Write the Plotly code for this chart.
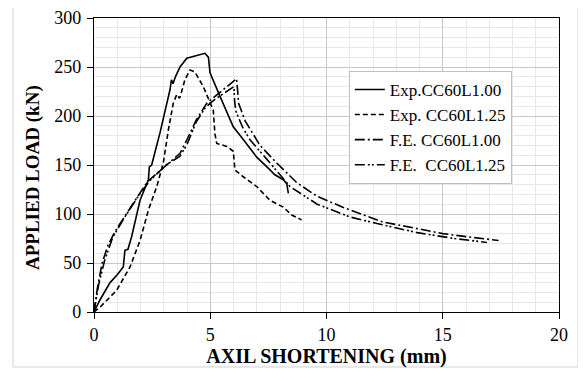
import plotly.graph_objects as go

# Exp. CC60L1.00
exp100_x = [0, 0.25, 0.69, 1.0, 1.26, 1.33, 1.46, 1.62, 1.98, 2.34, 2.38, 2.48, 2.84, 3.13, 3.27, 3.33, 3.4, 3.5, 3.7, 3.99, 4.42, 4.77, 4.92, 4.96, 4.99, 5.42, 5.99, 6.42, 7.0, 7.57, 7.78, 8.14, 8.29, 8.36]
exp100_y = [0, 12, 30, 38, 46, 63, 64, 77, 114, 135, 148, 150, 183, 213, 227, 237, 233, 240, 250, 259, 262, 264, 260, 247, 244, 220, 189, 176, 158, 145, 140, 135, 131, 121]

# Exp. CC60L1.25
exp125_x = [0, 0.26, 0.97, 1.55, 1.98, 2.34, 2.7, 2.98, 3.2, 3.41, 3.56, 3.68, 3.77, 3.91, 4.13, 4.34, 4.7, 5.13, 5.2, 5.28, 5.71, 5.99, 6.06, 6.42, 7.0, 7.57, 8.14, 8.5, 8.93]
exp125_y = [0, 5, 22, 46, 73, 104, 128, 152, 186, 213, 222, 218, 225, 237, 247, 245, 230, 206, 182, 172, 169, 164, 145, 138, 128, 114, 107, 99, 94]

# F.E. CC60L1.00
fe100_x = [0, 0.15, 0.35, 0.6, 0.9, 1.3, 1.8, 2.3, 3.1, 3.7, 4.0, 4.4, 4.85, 5.3, 5.7, 6.13, 6.18, 6.22, 6.5, 7.14, 7.86, 8.72, 9.6, 10.7, 12.4, 13.9, 15.0, 16.3, 17.4]
fe100_y = [0, 25, 50, 68, 82, 97, 115, 133, 150, 162, 176, 196, 213, 222, 230, 238, 225, 213, 195, 170, 152, 132, 118, 107, 92, 85, 80, 76, 73]

# F.E. CC60L1.25
fe125_x = [0, 0.2, 0.45, 0.8, 1.3, 1.9, 2.4, 3.1, 3.7, 4.0, 4.4, 4.8, 5.2, 5.7, 6.02, 6.05, 6.1, 6.4, 6.7, 7.43, 8.43, 9.6, 11.0, 12.4, 13.9, 15.5, 16.9]
fe125_y = [0, 28, 52, 76, 96, 118, 134, 150, 159, 171, 194, 209, 217, 225, 230, 215, 205, 188, 176, 156, 128, 110, 97, 89, 81, 75, 71]

names = ["Exp.CC60L1.00", "Exp. CC60L1.25", "F.E. CC60L1.00", "F.E.  CC60L1.25"]
dashes = ["solid", "5px,3px", "10px,3px,2px,3px", "10px,3px,2px,2px,2px,3px"]

x_title = "AXIL SHORTENING (mm)"
y_title = "APPLIED LOAD (kN)"

fig = go.Figure()
series = [(exp100_x, exp100_y), (exp125_x, exp125_y), (fe100_x, fe100_y), (fe125_x, fe125_y)]
for (xs, ys), nm, ds in zip(series, names, dashes):
    fig.add_trace(go.Scatter(x=xs, y=ys, mode="lines", name=nm,
                             line=dict(color="black", width=1.6, dash=ds)))

serif = "Liberation Serif, Times New Roman, serif"

# page body has an 8px default margin: figure sized to fit the 586x370 window
fig.update_layout(
    width=578, height=362,
    margin=dict(l=86, r=27, t=10, b=58),
    paper_bgcolor="white", plot_bgcolor="white",
    font=dict(family=serif, size=18, color="black"),
    showlegend=True,
    legend=dict(x=0.548, y=0.82, xanchor="left", yanchor="top",
                bgcolor="white", bordercolor="#bfbfbf", borderwidth=1,
                font=dict(family=serif, size=17, color="black"),
                itemwidth=30),
    xaxis=dict(range=[0, 20], dtick=5, tick0=0, automargin=False,
               showgrid=True, gridcolor="#c8c8c8", gridwidth=1,
               minor=dict(dtick=1, showgrid=True, gridcolor="#e8e8e8", gridwidth=1),
               showline=True, linecolor="black", linewidth=1.3, mirror=True,
               ticks="outside", ticklen=6, tickcolor="black",
               zeroline=False,
               title=dict(text=f"<b>{x_title}</b>", font=dict(family=serif, size=20), standoff=3),
               tickfont=dict(family=serif, size=18)),
    yaxis=dict(range=[0, 300], dtick=50, tick0=0, automargin=False,
               showgrid=True, gridcolor="#c8c8c8", gridwidth=1,
               minor=dict(dtick=10, showgrid=True, gridcolor="#e8e8e8", gridwidth=1),
               showline=True, linecolor="black", linewidth=1.3, mirror=True,
               ticks="outside", ticklen=6, tickcolor="black",
               ticklabelstandoff=2,
               zeroline=False,
               tickfont=dict(family=serif, size=18)),
    annotations=[dict(text=f"<b>{y_title}</b>", xref="paper", yref="paper",
                      x=-0.131, y=0.456, xanchor="center", yanchor="middle",
                      textangle=-90, showarrow=False,
                      font=dict(family=serif, size=19, color="black"))],
    shapes=[dict(type="rect", xref="paper", yref="paper",
                 x0=-0.1742, x1=1.0409, y0=-0.187, y1=1.051,
                 line=dict(color="#d0d0d0", width=1), fillcolor="rgba(0,0,0,0)", layer="below")],
)

fig.write_html("out.html")
